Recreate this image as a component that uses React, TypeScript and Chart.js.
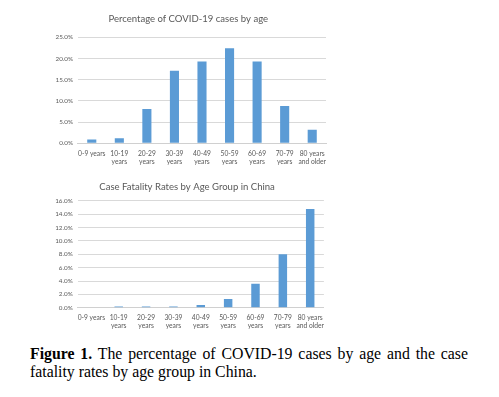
import React, { useEffect, useRef } from "react";
import { Chart, registerables } from "chart.js";

Chart.register(...registerables);

const ageGroups: (string | string[])[] = [
  "0-9 years",
  ["10-19", "years"],
  ["20-29", "years"],
  ["30-39", "years"],
  ["40-49", "years"],
  ["50-59", "years"],
  ["60-69", "years"],
  ["70-79", "years"],
  ["80 years", "and older"],
];

const casePercent = [0.9, 1.2, 8.1, 17.1, 19.3, 22.4, 19.3, 8.8, 3.2];
const fatalityRate = [0.0, 0.2, 0.2, 0.2, 0.4, 1.3, 3.6, 8.0, 14.8];

const title1 = "Percentage of COVID-19 cases by age";
const title2 = "Case Fatality Rates by Age Group in China";

const FONT = "Lato, 'Liberation Sans', sans-serif";
const BAR = "#5B9BD5";
const GRID = "#D9D9D9";
const TEXT = "#595959";

type Pad = { left: number; right: number; top: number; bottom: number };

function makeConfig(
  values: number[],
  title: string,
  max: number,
  step: number,
  barPct: number,
  pad: Pad,
  titlePad: { top: number; bottom: number }
): any {
  return {
    type: "bar",
    data: {
      labels: ageGroups,
      datasets: [
        {
          data: values,
          backgroundColor: BAR,
          borderWidth: 0,
          categoryPercentage: 1,
          barPercentage: barPct,
        },
      ],
    },
    options: {
      animation: false,
      responsive: false,
      maintainAspectRatio: false,
      layout: { padding: pad },
      plugins: {
        legend: { display: false },
        tooltip: { enabled: false },
        title: {
          display: true,
          text: title,
          color: TEXT,
          font: { family: FONT, size: 9.55, weight: "normal", lineHeight: 1.2 },
          padding: titlePad,
        },
      },
      scales: {
        x: {
          grid: {
            display: true,
            drawOnChartArea: false,
            drawTicks: true,
            tickLength: 6,
            tickColor: "rgba(0,0,0,0)",
          },
          border: { display: true, color: "#D0D0D0" },
          ticks: {
            color: TEXT,
            font: { family: FONT, size: 6.7, lineHeight: 1.2 },
            maxRotation: 0,
            minRotation: 0,
            autoSkip: false,
            padding: 0,
          },
        },
        y: {
          min: 0,
          max: max,
          grid: { color: GRID, drawTicks: false, lineWidth: 1 },
          border: { display: false },
          ticks: {
            stepSize: step,
            color: TEXT,
            font: { family: FONT, size: 6.3 },
            padding: 5,
            callback: (v: any) => Number(v).toFixed(1) + "%",
          },
        },
      },
    },
  };
}

function BarChart(props: {
  values: number[];
  title: string;
  max: number;
  step: number;
  barPct: number;
  pad: Pad;
  titlePad: { top: number; bottom: number };
  left: number;
  top: number;
  width: number;
  height: number;
}) {
  const ref = useRef<HTMLCanvasElement | null>(null);
  useEffect(() => {
    if (!ref.current) return;
    const chart = new Chart(
      ref.current,
      makeConfig(props.values, props.title, props.max, props.step, props.barPct, props.pad, props.titlePad)
    );
    return () => chart.destroy();
  }, []);
  return (
    <canvas
      ref={ref}
      width={props.width}
      height={props.height}
      style={{
        position: "absolute",
        left: props.left,
        top: props.top,
        width: props.width,
        height: props.height,
      }}
    />
  );
}

export default function App() {
  return (
    <div
      style={{
        position: "absolute",
        left: 0,
        top: 0,
        width: 499,
        height: 397,
        background: "#fff",
        overflow: "hidden",
      }}
    >
      <BarChart
        values={casePercent}
        title={title1}
        max={25}
        step={5}
        barPct={0.33}
        pad={{ left: 10.5, right: 18, top: 0, bottom: 0.6 }}
        titlePad={{ top: 5.6, bottom: 12.2 }}
        left={40}
        top={8}
        width={304}
        height={158}
      />
      <BarChart
        values={fatalityRate}
        title={title2}
        max={16}
        step={2}
        barPct={0.31}
        pad={{ left: 25.2, right: 0, top: 0, bottom: 0.2 }}
        titlePad={{ top: 7.2, bottom: 8.3 }}
        left={25}
        top={174}
        width={299}
        height={156}
      />
      <div
        style={{
          position: "absolute",
          left: 30,
          top: 344.5,
          width: 438,
          fontFamily: "'Liberation Serif', 'Times New Roman', serif",
          fontSize: 15.8,
          lineHeight: "18.5px",
          color: "#000",
          textAlign: "justify",
        }}
      >
        <b>Figure 1.</b> The percentage of COVID-19 cases by age and the case fatality rates by
        age group in China.
      </div>
    </div>
  );
}
